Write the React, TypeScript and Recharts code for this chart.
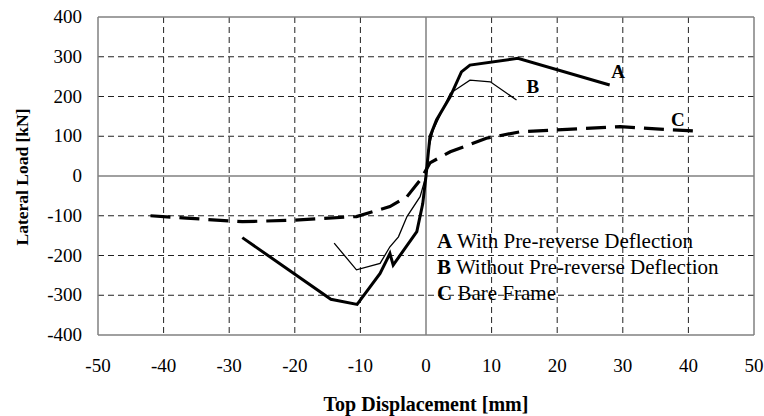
import React from "react"
import {
  LineChart, Line, XAxis, YAxis, CartesianGrid, ReferenceLine, ReferenceDot,
} from "recharts"

// pushover curves: top displacement [mm] vs lateral load [kN]
const dispA = [-28, -14.5, -10.5, -7, -5.5, -5, -1.4, -0.5, 0, 0.6, 1.6, 3.7, 5.4, 6.7, 14, 28]
const loadA = [-155, -310, -323, -245, -195, -224, -140, -70, 0, 99, 141, 200, 262, 279, 296, 229]

const dispB = [-14, -10.6, -7, -5.5, -4.2, -2.9, -0.9, 0, 0.35, 1.1, 3.7, 6.7, 9.8, 13.8]
const loadB = [-169, -236, -220, -178, -153, -102, -52, 0, 65, 116, 208, 241, 237, 191]

const dispC = [-42, -36.5, -28, -20, -10.6, -5.5, -2.9, -0.7, 0.6, 3.7, 9.2, 14.3, 20, 29.6, 36.7, 41.5]
const loadC = [-100, -106, -115, -111, -102, -77, -52, -6, 33, 61, 95, 111, 116, 124, 117, 113]

const xTicks = [-50, -40, -30, -20, -10, 0, 10, 20, 30, 40, 50]
const yTicks = [-400, -300, -200, -100, 0, 100, 200, 300, 400]

// curve tags placed next to each curve
const tagNames = ["A", "B", "C"]
const tagX = [29.3, 16.3, 38.4]
const tagY = [262, 224, 141]

const legendKeys = ["A", "B", "C"]
const legendNames = ["With Pre-reverse Deflection", "Without Pre-reverse Deflection", "Bare Frame"]

const toPoints = (xs: number[], ys: number[]) => xs.map((x, i) => ({ x, y: ys[i] }))

const serif = "'Liberation Serif', 'Times New Roman', serif"
const frame = "#808080"

const Tag = (name: string) => (props: any) => (
  <text x={props.cx} y={props.cy} textAnchor="middle" dominantBaseline="central"
    style={{ fontFamily: serif, fontWeight: "bold", fontSize: 19 }} fill="#000">{name}</text>
)

const XTick = (props: any) => (
  <text x={props.x} y={props.y} dy={17} textAnchor="middle"
    style={{ fontFamily: serif, fontSize: 19 }} fill="#000">
    {props.payload.value}
  </text>
)

const YTick = (props: any) => (
  <text x={props.x} y={props.y} dy={6} textAnchor="end"
    style={{ fontFamily: serif, fontSize: 19 }} fill="#000">
    {props.payload.value}
  </text>
)

export default function App() {
  return (
    <div style={{ position: "absolute", left: 0, top: 0, width: 764, height: 416, background: "#fff" }}>
      <LineChart width={764} height={416} margin={{ top: 17, right: 10, bottom: 51, left: 38 }}>
        <CartesianGrid stroke="#222" strokeDasharray="6 4" strokeWidth={1}
          horizontalValues={yTicks.filter(v => v !== 0 && Math.abs(v) !== 400)}
          verticalValues={xTicks.filter(v => v !== 0 && Math.abs(v) !== 50)} />
        <XAxis type="number" dataKey="x" domain={[-50, 50]} ticks={xTicks} allowDataOverflow
          tickLine={false} tickMargin={14} axisLine={{ stroke: frame, strokeWidth: 1.5 }} tick={XTick} height={30} />
        <YAxis type="number" dataKey="y" domain={[-400, 400]} ticks={yTicks} allowDataOverflow
          tickLine={false} tickMargin={10} axisLine={{ stroke: frame, strokeWidth: 1.5 }} tick={YTick} width={60} />
        <ReferenceLine x={0} stroke={frame} strokeWidth={1.5} />
        <ReferenceLine y={0} stroke={frame} strokeWidth={1.5} />
        <ReferenceLine x={50} stroke={frame} strokeWidth={1.5} />
        <ReferenceLine y={400} stroke={frame} strokeWidth={1.5} />
        <Line data={toPoints(dispC, loadC)} dataKey="y" stroke="#000" strokeWidth={3.2}
          strokeDasharray="20 9" dot={false} isAnimationActive={false} />
        <Line data={toPoints(dispB, loadB)} dataKey="y" stroke="#000" strokeWidth={1.3}
          dot={false} isAnimationActive={false} />
        <Line data={toPoints(dispA, loadA)} dataKey="y" stroke="#000" strokeWidth={3}
          dot={false} isAnimationActive={false} />
        {tagNames.map((n, i) => (
          <ReferenceDot key={n} x={tagX[i]} y={tagY[i]} r={0} shape={Tag(n)} />
        ))}
      </LineChart>
      <div style={{
        position: "absolute", left: 437, top: 228, fontFamily: serif, fontSize: 21,
        lineHeight: "26px", color: "#000", whiteSpace: "nowrap",
      }}>
        {legendKeys.map((k, i) => (
          <div key={k}>
            <b>{k}</b> {legendNames[i]}
          </div>
        ))}
      </div>
      <div style={{ position: "absolute", left: 22, top: 177, width: 0, height: 0 }}>
        <div style={{
          position: "absolute", left: 0, top: 0, transform: "translate(-50%, -50%) rotate(-90deg)",
          whiteSpace: "nowrap", fontFamily: serif, fontWeight: "bold", fontSize: 17.5,
        }}>Lateral Load [kN]</div>
      </div>
      <div style={{
        position: "absolute", left: 426, top: 404, transform: "translate(-50%, -50%)",
        whiteSpace: "nowrap", fontFamily: serif, fontWeight: "bold", fontSize: 20,
      }}>Top Displacement [mm]</div>
    </div>
  )
}
